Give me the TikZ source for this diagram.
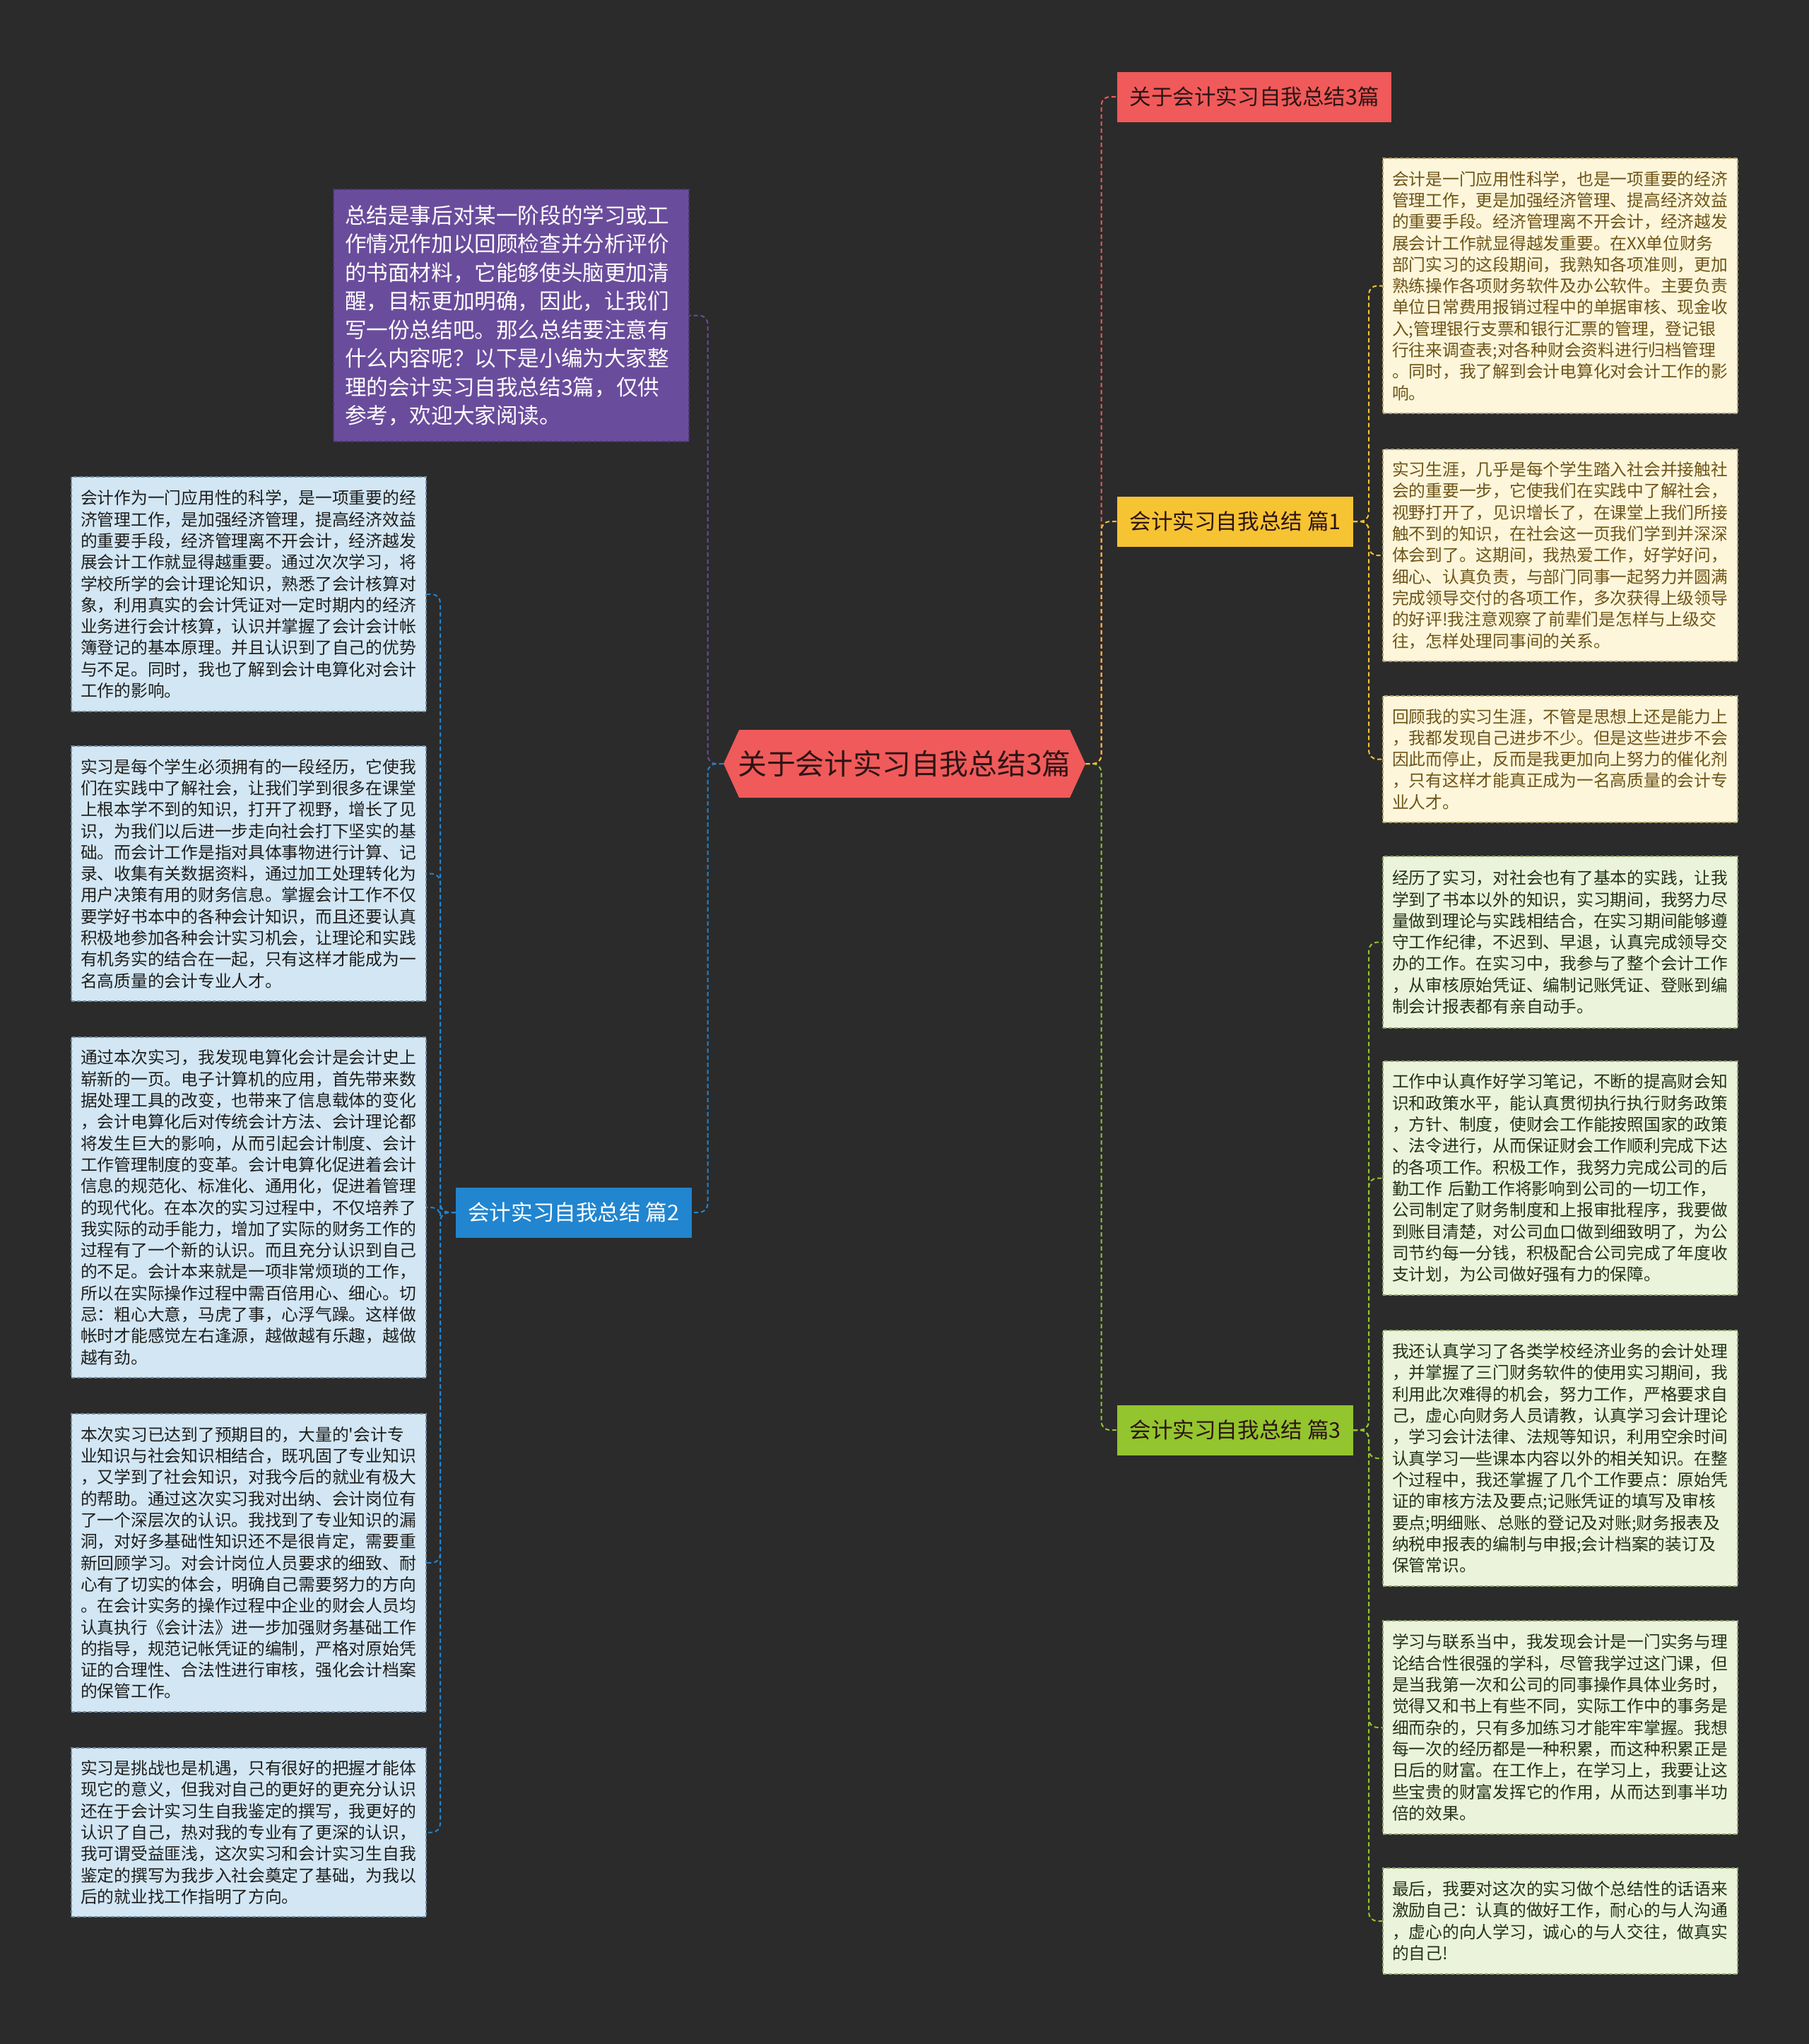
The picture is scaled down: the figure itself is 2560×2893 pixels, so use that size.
\documentclass[tikz,border=0pt]{standalone}
\usepackage{fontspec}
\setmainfont{Noto Sans CJK SC}[Ligatures=TeXOff]
\definecolor{bg}{RGB}{43,43,43}
\definecolor{cRed}{RGB}{240,90,90}
\definecolor{cYellow}{RGB}{246,195,51}
\definecolor{cBlue}{RGB}{33,133,208}
\definecolor{cGreen}{RGB}{147,197,46}
\definecolor{cPurple}{RGB}{106,76,156}
\definecolor{fBlue}{RGB}{210,230,243}
\definecolor{bBlue}{RGB}{110,140,165}
\definecolor{fYellow}{RGB}{253,246,218}
\definecolor{bYellow}{RGB}{175,160,110}
\definecolor{fGreen}{RGB}{235,243,218}
\definecolor{bGreen}{RGB}{140,160,110}
\definecolor{tBlue}{RGB}{30,30,30}
\definecolor{tYellow}{RGB}{110,84,24}
\definecolor{tGreen}{RGB}{35,51,24}
\definecolor{tDark}{RGB}{45,20,20}
\begin{document}
\begin{tikzpicture}[x=0.5pt,y=-0.5pt,
  conn/.style={line width=1pt, dash pattern=on 3pt off 2pt, rounded corners=6pt},
  hdr/.style={rectangle, minimum height=35.5pt, inner xsep=8.5pt, inner ysep=0pt,
    font=\fontsize{15.3pt}{18pt}\selectfont, text=tDark},
  tbox/.style={rectangle, line width=0.7pt, dash pattern=on 2.5pt off 1.5pt,
    text width=238pt, align=left, inner xsep=6.5pt, inner ysep=0pt,
    font=\fontsize{11.875pt}{15.15pt}\selectfont},
  lbox/.style={tbox, fill=fBlue, draw=bBlue, text=tBlue},
  ybox/.style={tbox, fill=fYellow, draw=bYellow, text=tYellow},
  gbox/.style={tbox, fill=fGreen, draw=bGreen, text=tGreen},
  pbox/.style={rectangle, fill=cPurple, draw=cPurple!70!black, line width=0.7pt,
    dash pattern=on 2.5pt off 1.5pt, text=white, text width=235.5pt, align=left,
    inner xsep=8pt, inner ysep=0pt, font=\fontsize{15.3pt}{20.25pt}\selectfont},
  cnode/.style={rectangle, minimum width=256pt, minimum height=48pt, inner sep=0pt,
    font=\fontsize{20.4pt}{24pt}\selectfont, text=tDark}
]
\fill[bg] (0,0) rectangle (2560,2893);
\useasboundingbox (0,0) rectangle (2560,2893);

% central node
\fill[cRed] (1024,1081) -- (1046,1033) -- (1514,1033) -- (1536,1081) -- (1514,1129) -- (1046,1129) -- cycle;
\node[cnode] (c) at (1280,1081) {关于会计实习自我总结3篇};

% headers
\node[hdr, fill=cRed, anchor=west] (t0) at (1581,137) {关于会计实习自我总结3篇};
\node[hdr, fill=cYellow, anchor=west] (t1) at (1581,738) {会计实习自我总结 篇1};
\node[hdr, fill=cBlue, text=white, anchor=east] (t2) at (979,1716) {会计实习自我总结 篇2};
\node[hdr, fill=cGreen, anchor=west] (t3) at (1581,2024) {会计实习自我总结 篇3};

% purple intro
\node[pbox, minimum height=178.5pt] (p) at (723.5,446.5) {总结是事后对某一阶段的学习或工\\作情况作加以回顾检查并分析评价\\的书面材料，它能够使头脑更加清\\醒，目标更加明确，因此，让我们\\写一份总结吧。那么总结要注意有\\什么内容呢？以下是小编为大家整\\理的会计实习自我总结3篇，仅供\\参考，欢迎大家阅读。};

% left boxes
\node[lbox, minimum height=166pt] (l1) at (352,841) {会计作为一门应用性的科学，是一项重要的经\\济管理工作，是加强经济管理，提高经济效益\\的重要手段，经济管理离不开会计，经济越发\\展会计工作就显得越重要。通过次次学习，将\\学校所学的会计理论知识，熟悉了会计核算对\\象，利用真实的会计凭证对一定时期内的经济\\业务进行会计核算，认识并掌握了会计会计帐\\簿登记的基本原理。并且认识到了自己的优势\\与不足。同时，我也了解到会计电算化对会计\\工作的影响。};
\node[lbox, minimum height=180.5pt] (l2) at (352,1236.5) {实习是每个学生必须拥有的一段经历，它使我\\们在实践中了解社会，让我们学到很多在课堂\\上根本学不到的知识，打开了视野，增长了见\\识，为我们以后进一步走向社会打下坚实的基\\础。而会计工作是指对具体事物进行计算、记\\录、收集有关数据资料，通过加工处理转化为\\用户决策有用的财务信息。掌握会计工作不仅\\要学好书本中的各种会计知识，而且还要认真\\积极地参加各种会计实习机会，让理论和实践\\有机务实的结合在一起，只有这样才能成为一\\名高质量的会计专业人才。};
\node[lbox, minimum height=241pt] (l3) at (352,1709) {通过本次实习，我发现电算化会计是会计史上\\崭新的一页。电子计算机的应用，首先带来数\\据处理工具的改变，也带来了信息载体的变化\\，会计电算化后对传统会计方法、会计理论都\\将发生巨大的影响，从而引起会计制度、会计\\工作管理制度的变革。会计电算化促进着会计\\信息的规范化、标准化、通用化，促进着管理\\的现代化。在本次的实习过程中，不仅培养了\\我实际的动手能力，增加了实际的财务工作的\\过程有了一个新的认识。而且充分认识到自己\\的不足。会计本来就是一项非常烦琐的工作，\\所以在实际操作过程中需百倍用心、细心。切\\忌：粗心大意，马虎了事，心浮气躁。这样做\\帐时才能感觉左右逢源，越做越有乐趣，越做\\越有劲。};
\node[lbox, minimum height=211pt] (l4) at (352,2212) {本次实习已达到了预期目的，大量的'会计专\\业知识与社会知识相结合，既巩固了专业知识\\，又学到了社会知识，对我今后的就业有极大\\的帮助。通过这次实习我对出纳、会计岗位有\\了一个深层次的认识。我找到了专业知识的漏\\洞，对好多基础性知识还不是很肯定，需要重\\新回顾学习。对会计岗位人员要求的细致、耐\\心有了切实的体会，明确自己需要努力的方向\\。在会计实务的操作过程中企业的财会人员均\\认真执行《会计法》进一步加强财务基础工作\\的指导，规范记帐凭证的编制，严格对原始凭\\证的合理性、合法性进行审核，强化会计档案\\的保管工作。};
\node[lbox, minimum height=119.5pt] (l5) at (352,2593.5) {实习是挑战也是机遇，只有很好的把握才能体\\现它的意义，但我对自己的更好的更充分认识\\还在于会计实习生自我鉴定的撰写，我更好的\\认识了自己，热对我的专业有了更深的认识，\\我可谓受益匪浅，这次实习和会计实习生自我\\鉴定的撰写为我步入社会奠定了基础，为我以\\后的就业找工作指明了方向。};

% right boxes (篇1)
\node[ybox, minimum height=180.5pt] (r1) at (2208,404.5) {会计是一门应用性科学，也是一项重要的经济\\管理工作，更是加强经济管理、提高经济效益\\的重要手段。经济管理离不开会计，经济越发\\展会计工作就显得越发重要。在XX单位财务\\部门实习的这段期间，我熟知各项准则，更加\\熟练操作各项财务软件及办公软件。主要负责\\单位日常费用报销过程中的单据审核、现金收\\入;管理银行支票和银行汇票的管理，登记银\\行往来调查表;对各种财会资料进行归档管理\\。同时，我了解到会计电算化对会计工作的影\\响。};
\node[ybox, minimum height=150pt] (r2) at (2208,786) {实习生涯，几乎是每个学生踏入社会并接触社\\会的重要一步，它使我们在实践中了解社会，\\视野打开了，见识增长了，在课堂上我们所接\\触不到的知识，在社会这一页我们学到并深深\\体会到了。这期间，我热爱工作，好学好问，\\细心、认真负责，与部门同事一起努力并圆满\\完成领导交付的各项工作，多次获得上级领导\\的好评!我注意观察了前辈们是怎样与上级交\\往，怎样处理同事间的关系。};
\node[ybox, minimum height=89.5pt] (r3) at (2208,1074.5) {回顾我的实习生涯，不管是思想上还是能力上\\，我都发现自己进步不少。但是这些进步不会\\因此而停止，反而是我更加向上努力的催化剂\\，只有这样才能真正成为一名高质量的会计专\\业人才。};

% right boxes (篇3)
\node[gbox, minimum height=121.5pt] (r4) at (2208,1333.5) {经历了实习，对社会也有了基本的实践，让我\\学到了书本以外的知识，实习期间，我努力尽\\量做到理论与实践相结合，在实习期间能够遵\\守工作纪律，不迟到、早退，认真完成领导交\\办的工作。在实习中，我参与了整个会计工作\\，从审核原始凭证、编制记账凭证、登账到编\\制会计报表都有亲自动手。};
\node[gbox, minimum height=165.5pt] (r5) at (2208,1667.5) {工作中认真作好学习笔记，不断的提高财会知\\识和政策水平，能认真贯彻执行执行财务政策\\，方针、制度，使财会工作能按照国家的政策\\、法令进行，从而保证财会工作顺利完成下达\\的各项工作。积极工作，我努力完成公司的后\\勤工作 后勤工作将影响到公司的一切工作，\\公司制定了财务制度和上报审批程序，我要做\\到账目清楚，对公司血口做到细致明了，为公\\司节约每一分钱，积极配合公司完成了年度收\\支计划，为公司做好强有力的保障。};
\node[gbox, minimum height=181pt] (r6) at (2208,2064) {我还认真学习了各类学校经济业务的会计处理\\，并掌握了三门财务软件的使用实习期间，我\\利用此次难得的机会，努力工作，严格要求自\\己，虚心向财务人员请教，认真学习会计理论\\，学习会计法律、法规等知识，利用空余时间\\认真学习一些课本内容以外的相关知识。在整\\个过程中，我还掌握了几个工作要点：原始凭\\证的审核方法及要点;记账凭证的填写及审核\\要点;明细账、总账的登记及对账;财务报表及\\纳税申报表的编制与申报;会计档案的装订及\\保管常识。};
\node[gbox, minimum height=151pt] (r7) at (2208,2445) {学习与联系当中，我发现会计是一门实务与理\\论结合性很强的学科，尽管我学过这门课，但\\是当我第一次和公司的同事操作具体业务时，\\觉得又和书上有些不同，实际工作中的事务是\\细而杂的，只有多加练习才能牢牢掌握。我想\\每一次的经历都是一种积累，而这种积累正是\\日后的财富。在工作上，在学习上，我要让这\\些宝贵的财富发挥它的作用，从而达到事半功\\倍的效果。};
\node[gbox, minimum height=75pt] (r8) at (2208,2719) {最后，我要对这次的实习做个总结性的话语来\\激励自己：认真的做好工作，耐心的与人沟通\\，虚心的向人学习，诚心的与人交往，做真实\\的自己!};

% connectors
\coordinate (tr) at (1558.5,1081);
\coordinate (tl) at (1001.5,1081);
\coordinate (s1) at (1937,738);
\coordinate (s2) at (623,1716);
\coordinate (s3) at (1937,2024);

\draw[conn, draw=cRed] (c.east) -- (tr) |- (t0.west);
\draw[conn, draw=cGreen] (c.east) -- (tr) |- (t3.west);
\draw[conn, draw=cYellow] (c.east) -- (tr) |- (t1.west);
\draw[conn, draw=cPurple] (c.west) -- (tl) |- (p.east);
\draw[conn, draw=cBlue] (c.west) -- (tl) |- (t2.east);

\foreach \b in {r1,r2,r3} \draw[conn, draw=cYellow] (t1.east) -- (s1) |- (\b.west);
\foreach \b in {r4,r5,r6,r7,r8} \draw[conn, draw=cGreen] (t3.east) -- (s3) |- (\b.west);
\foreach \b in {l1,l2,l3,l4,l5} \draw[conn, draw=cBlue] (t2.west) -- (s2) |- (\b.east);
\end{tikzpicture}
\end{document}
